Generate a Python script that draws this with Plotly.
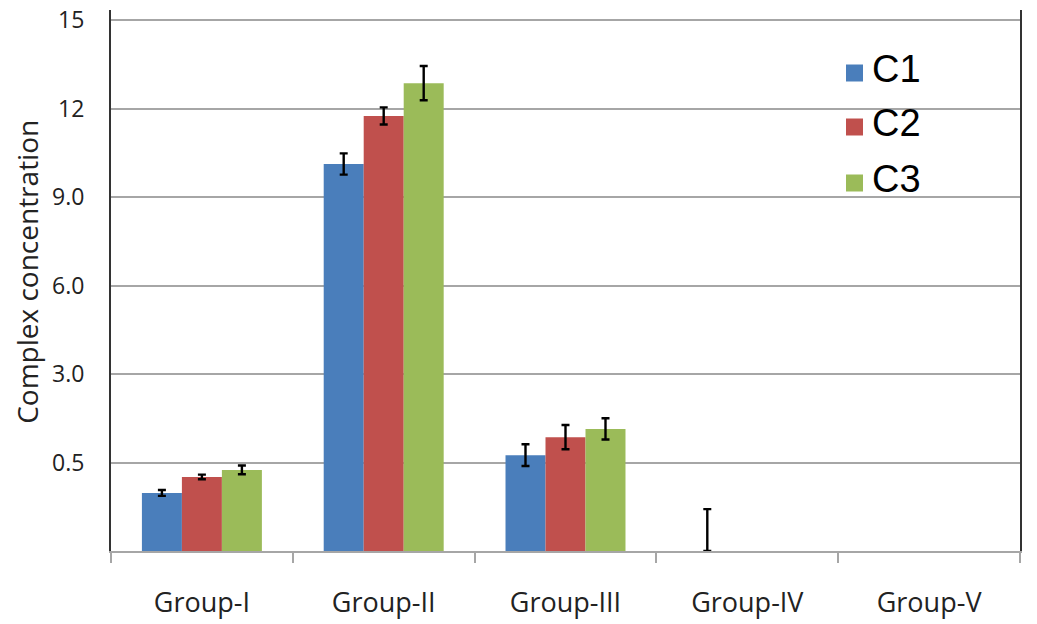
import plotly.graph_objects as go

groups = ["Group-I", "Group-II", "Group-III", "Group-IV", "Group-V"]
series = ["C1", "C2", "C3"]
c1 = [-1.03, 10.12, 0.25, -3.0, None]
c2 = [-0.49, 11.75, 0.86, None, None]
c3 = [-0.25, 12.86, 1.14, None, None]
c1_err = [0.10, 0.36, 0.37, 1.42, 0]
c2_err = [0.08, 0.29, 0.41, 0, 0]
c3_err = [0.15, 0.58, 0.36, 0, 0]
c1_err_minus = [0.10, 0.36, 0.37, 0.0, 0]
y_tickvals = [0, 3, 6, 9, 12, 15]
y_ticktext = ["0.5", "3.0", "6.0", "9.0", "12", "15"]
axis_base = -3.0

colors = ["#4A7EBB", "#C0504D", "#9BBB59"]
values = [c1, c2, c3]
errs = [c1_err, c2_err, c3_err]
errs_minus = [c1_err_minus, c2_err, c3_err]

fig = go.Figure()
for name, vals, e, em, col in zip(series, values, errs, errs_minus, colors):
    fig.add_trace(go.Bar(
        x=groups,
        y=[None if v is None else v - axis_base for v in vals],
        base=axis_base,
        name=name,
        marker=dict(color=col, line=dict(width=0)),
        error_y=dict(type="data", symmetric=False, array=e, arrayminus=em,
                     color="black", thickness=2.4, width=4),
        showlegend=False,
    ))

fig.update_layout(
    width=1037, height=624,
    margin=dict(l=103, r=25, t=2, b=81),
    plot_bgcolor="white", paper_bgcolor="white",
    barmode="group", bargap=0.34, bargroupgap=0,
    font=dict(family="Open Sans", color="#222"),
    xaxis=dict(
        type="category", showgrid=False, showline=True, linecolor="#a6a6a6", linewidth=2,
        ticks="outside", tickson="boundaries", ticklen=10, tickcolor="#a6a6a6", tickwidth=2,
        tickfont=dict(family="Open Sans", size=27, color="#222"),
        ticklabelstandoff=27, automargin=False,
    ),
    yaxis=dict(
        range=[axis_base, 15.34], tickvals=y_tickvals, ticktext=y_ticktext,
        showgrid=True, gridcolor="#a6a6a6", gridwidth=2, zeroline=False,
        showline=True, linecolor="#333", linewidth=2, mirror=True,
        ticks="", tickfont=dict(family="Open Sans", size=23, color="#222"),
        ticklabelstandoff=20, ticklabeloverflow="allow", automargin=False,
    ),
)

fig.add_annotation(
    text="Complex concentration", xref="paper", yref="paper", x=(27 - 111) / 909, y=0.516,
    xanchor="center", yanchor="middle", textangle=-90, showarrow=False, borderpad=0,
    font=dict(family="Open Sans", size=28, color="#222"),
)

# legend drawn manually
leg_y = [69, 123, 179]
sq_y = [73, 127, 183]
for name, col, yy, sy in zip(series, colors, leg_y, sq_y):
    yc = 1 - (yy - 10) / 541
    ys = 1 - (sy - 10) / 541
    fig.add_shape(type="rect", xref="paper", yref="paper",
                  x0=(846 - 111) / 909, x1=(863 - 111) / 909,
                  y0=ys - 8.5 / 541, y1=ys + 8.5 / 541,
                  fillcolor=col, line=dict(width=0))
    fig.add_annotation(text=name, xref="paper", yref="paper",
                       x=(870 - 111) / 909, y=yc, xanchor="left", yanchor="middle",
                       showarrow=False,
                       font=dict(family="Liberation Sans", size=38, color="black"))

fig.write_html("out.html")
